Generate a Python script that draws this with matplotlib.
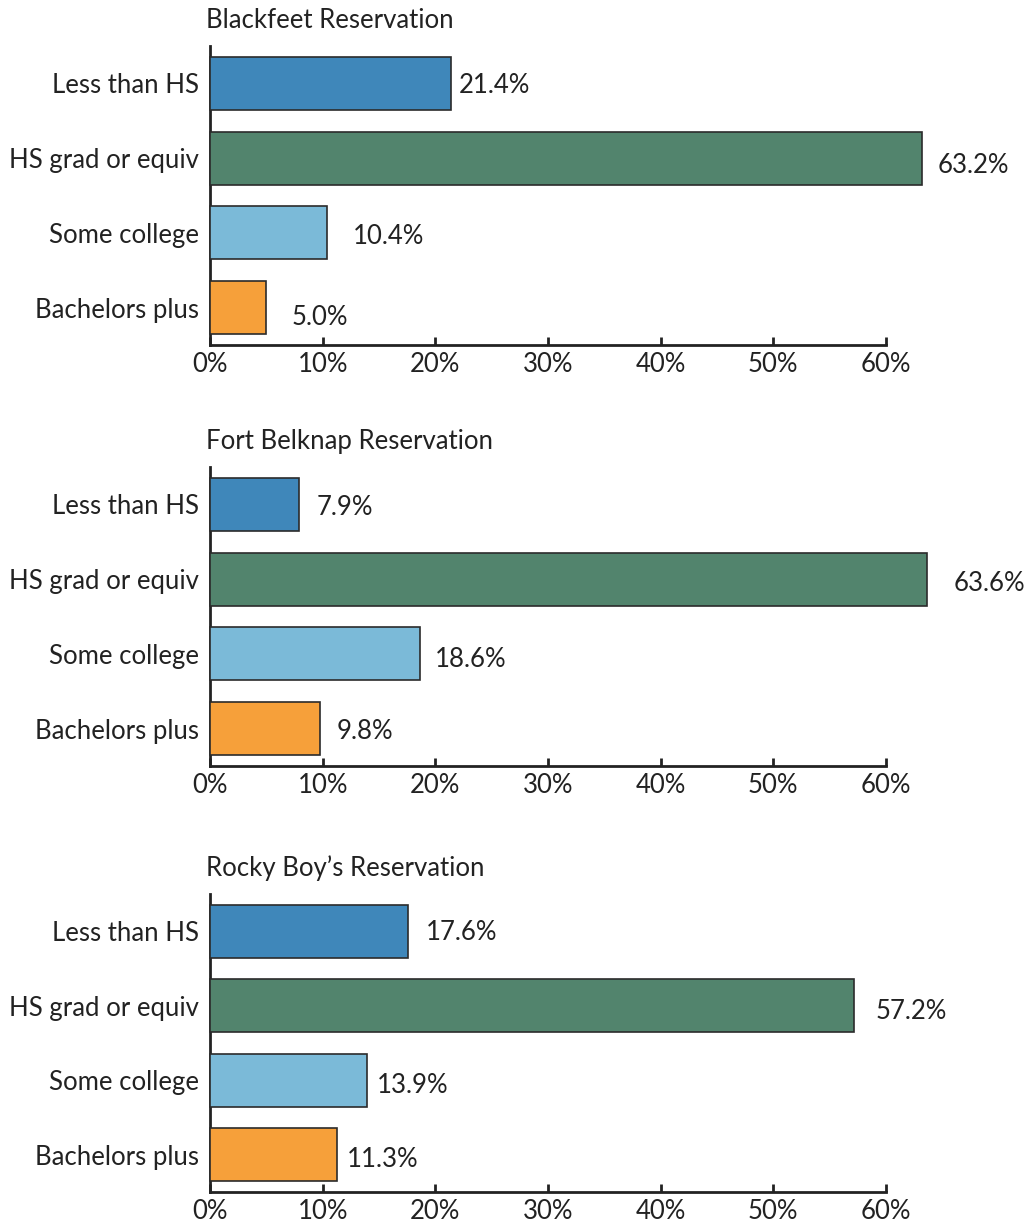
import matplotlib
matplotlib.use("Agg")
import matplotlib.pyplot as plt
from matplotlib.ticker import FuncFormatter

plt.rcParams["font.family"] = ["Lato", "DejaVu Sans"]

CATEGORIES = ["Less than HS", "HS grad or equiv", "Some college", "Bachelors plus"]
TITLES = ["Blackfeet Reservation", "Fort Belknap Reservation", "Rocky Boy\u2019s Reservation"]
BLACKFEET = [21.4, 63.2, 10.4, 5.0]
FORT_BELKNAP = [7.9, 63.6, 18.6, 9.8]
ROCKY_BOY = [17.6, 57.2, 13.9, 11.3]
XTICKS = [0, 10, 20, 30, 40, 50, 60]

COLORS = ["#3f87ba", "#52846d", "#7bbad8", "#f6a03a"]
EDGE = "#2b2b2b"
TXT = "#222222"

# value-label nudges in pixels (dx past bar end, dy down), per panel
NUDGE = [
    [(8, 2), (16, 7), (26, 4), (25, 10)],
    [(18, 3), (27, 4), (15, 6), (16, 3)],
    [(18, 1), (21, 6), (10, 5), (10, 5)],
]

W, H = 1028, 1224
fig = plt.figure(figsize=(W / 100, H / 100), dpi=100)

# axes boxes in pixels: (top, bottom)
BOXES = [(46, 345), (467, 766), (894, 1192)]
left, right = 210, 886

for i, (title, vals) in enumerate(zip(TITLES, [BLACKFEET, FORT_BELKNAP, ROCKY_BOY])):
    top, bot = BOXES[i]
    ax = fig.add_axes([left / W, 1 - bot / H, (right - left) / W, (bot - top) / H])
    ypos = range(len(CATEGORIES))
    ax.barh(ypos, vals, height=0.71, color=COLORS, edgecolor=EDGE,
            linewidth=1.2, clip_on=False, zorder=3)
    ax.set_xlim(0, 60)
    ax.set_ylim(len(CATEGORIES) - 0.5, -0.5)
    ax.set_yticks(list(ypos))
    ax.set_yticklabels(CATEGORIES)
    ax.set_xticks(XTICKS)
    ax.xaxis.set_major_formatter(FuncFormatter(lambda v, p: f"{v:.0f}%"))
    ax.tick_params(axis="y", length=0, pad=8, labelsize=18.5, labelcolor=TXT)
    ax.tick_params(axis="x", direction="in", length=6, width=2, pad=5,
                   labelsize=18.5, labelcolor=TXT, color=TXT)
    for s in ["top", "right"]:
        ax.spines[s].set_visible(False)
    for s in ["left", "bottom"]:
        ax.spines[s].set_linewidth(2)
        ax.spines[s].set_color(TXT)
    for j, v in enumerate(vals):
        dx, dy = NUDGE[i][j]
        ax.annotate(f"{v:.1f}%", (v, j), xytext=(dx, -dy), textcoords="offset pixels",
                    ha="left", va="center", fontsize=18.5, color=TXT,
                    annotation_clip=False)
    ax.annotate(title, xy=(0, 1), xycoords="axes fraction", xytext=(-4, 26),
                textcoords="offset pixels", ha="left", va="center",
                fontsize=18.5, color=TXT)

fig.savefig("out.png", dpi=100, facecolor="white")
